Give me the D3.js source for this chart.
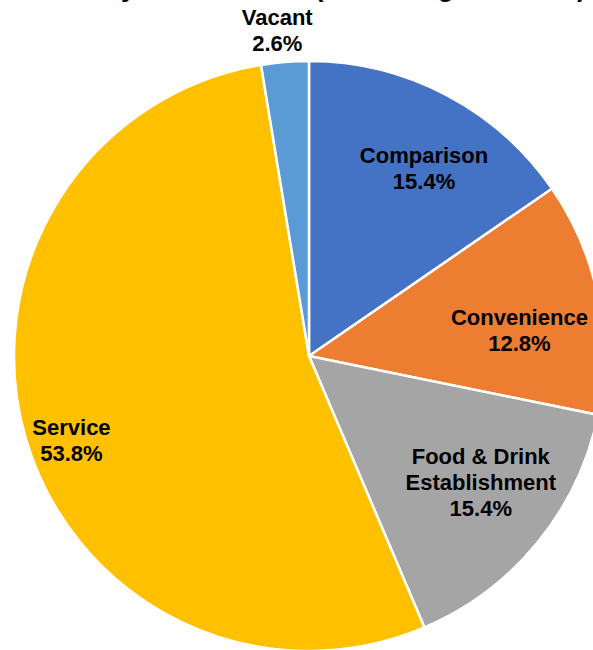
<!DOCTYPE html>
<html>
<head>
<meta charset="utf-8">
<script src="https://cdn.jsdelivr.net/npm/d3@7"></script>
<style>
  html, body { margin: 0; padding: 0; background: #fff; }
  svg { display: block; }
</style>
</head>
<body>
<svg id="chart" width="593" height="650"></svg>
<script>
// ---- data ----
const categories = ["Comparison", "Convenience", "Food & Drink Establishment", "Service", "Vacant"];
const labelLines = [["Comparison"], ["Convenience"], ["Food & Drink", "Establishment"], ["Service"], ["Vacant"]];
const values = [15.4, 12.8, 15.4, 53.8, 2.6];
const titleText = "Vitality Local Centre (Percentage of Units)";

// ---- style ----
const colors = ["#4472C4", "#ED7D31", "#A5A5A5", "#FFC000", "#5B9BD5"];
// label placement: [radius, angle tweak in degrees]
const labelPlace = [[220, 3.8], [212, 4.5], [213, -3], [252, -3.3], [327, -0.9]];

const svg = d3.select("#chart");
const cx = 309, cy = 356, R = 295;

svg.append("text")
  .attr("x", 586).attr("y", -4)
  .attr("text-anchor", "end")
  .attr("font-family", "Liberation Sans, Arial, sans-serif")
  .attr("font-weight", "bold")
  .attr("font-size", 27)
  .attr("fill", "#000")
  .text(titleText);

const data = categories.map((c, i) => ({ cat: c, value: values[i], i }));
const pie = d3.pie().sort(null).value(d => d.value).startAngle(0).endAngle(2 * Math.PI);
const arcs = pie(data);
const arc = d3.arc().innerRadius(0).outerRadius(R);

const g = svg.append("g").attr("transform", `translate(${cx},${cy})`);
g.selectAll("path").data(arcs).join("path")
  .attr("d", arc)
  .attr("fill", d => colors[d.data.i])
  .attr("stroke", "#fff")
  .attr("stroke-width", 2.5)
  .attr("stroke-linejoin", "round");

const lineH = 26;
arcs.forEach(a => {
  const i = a.data.i;
  const [r, tweak] = labelPlace[i];
  const ang = (a.startAngle + a.endAngle) / 2 + tweak * Math.PI / 180;
  const x = r * Math.sin(ang), y = -r * Math.cos(ang);
  const lines = labelLines[i].concat([d3.format(".1f")(a.data.value) + "%"]);
  const y0 = y - (lines.length - 1) * lineH / 2;
  const t = g.append("text")
    .attr("text-anchor", "middle")
    .attr("font-family", "Liberation Sans, Arial, sans-serif")
    .attr("font-weight", "bold")
    .attr("font-size", 22)
    .attr("fill", "#000");
  lines.forEach((ln, k) => {
    t.append("tspan").attr("x", x).attr("y", y0 + k * lineH).attr("dy", "0.35em").text(ln);
  });
});
</script>
</body>
</html>
